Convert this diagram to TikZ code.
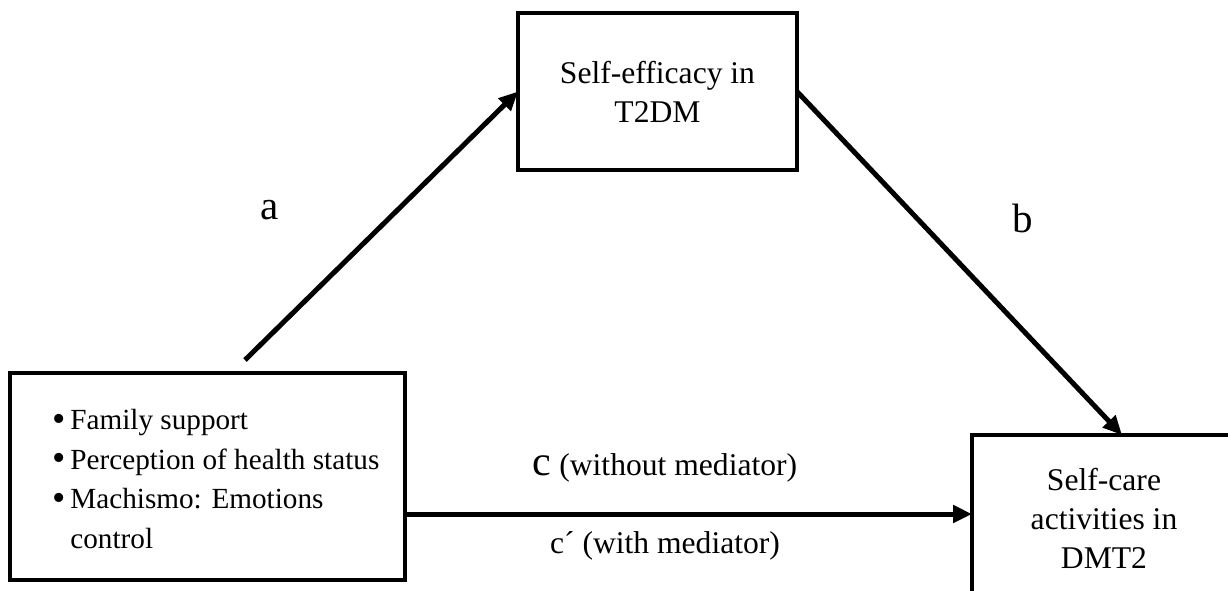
\documentclass[tikz,border=0pt]{standalone}
\usepackage{fontspec}
\setmainfont{Liberation Serif}
\usetikzlibrary{arrows.meta,calc}
\newcommand{\bul}{\makebox[9pt][l]{\raisebox{-0.8pt}{\fontsize{19}{19}\selectfont\textbullet}}}
\begin{document}
\begin{tikzpicture}[x=0.5pt,y=-0.5pt,
  box/.style={draw,line width=2.4pt,rectangle,inner sep=0pt,outer sep=0pt},
  txt/.style={inner sep=0pt,align=center,font=\fontsize{15.8}{19.5}\selectfont},
  lbl/.style={inner sep=0pt,font=\fontsize{20.5}{20.5}\selectfont},
  arr/.style={line width=2.5pt,-{Triangle[length=9.5pt,width=8.5pt]}}]
\useasboundingbox (0,0) rectangle (1228,590);
% boxes
\node[box,anchor=north west,minimum width=139.5pt,minimum height=78.5pt] (top) at (518,13) {};
\node[box,anchor=north west,minimum width=197.5pt,minimum height=103.5pt] (lbox) at (10,373) {};
\node[box,anchor=north west,minimum width=150pt,minimum height=90pt] (rbox) at (972,435) {};
% texts
\node[txt] (toptxt) at (top.center) {Self-efficacy in\\T2DM};
\node[txt] (rtxt) at (1104,518) {Self-care\\activities in\\DMT2};
\node[txt,align=left,anchor=west,font=\fontsize{14.6}{19.75}\selectfont] (ltxt) at (52,479)
  {\bul Family support\\
   \bul Perception of health status\\
   \bul Machismo: Emotions\\
   \hspace*{9pt}control};
% connectors
\coordinate (astart) at (245,360);
\draw[arr] (astart) -- (top.west);
\draw[arr] (top.east) -- (rbox.north);
\draw[arr] ([yshift=-18.75pt]lbox.east) -- ([yshift=-18.75pt]lbox.east -| rbox.west);
% labels
\node[lbl] (la) at (270,210) {a};
\node[lbl] (lb) at (1023,218) {b};
\node[txt] (lc) at (665,468) {{\fontsize{21}{21}\selectfont c} (without mediator)};
\node[txt] (lcp) at (665,546) {c´ (with mediator)};
\end{tikzpicture}
\end{document}
